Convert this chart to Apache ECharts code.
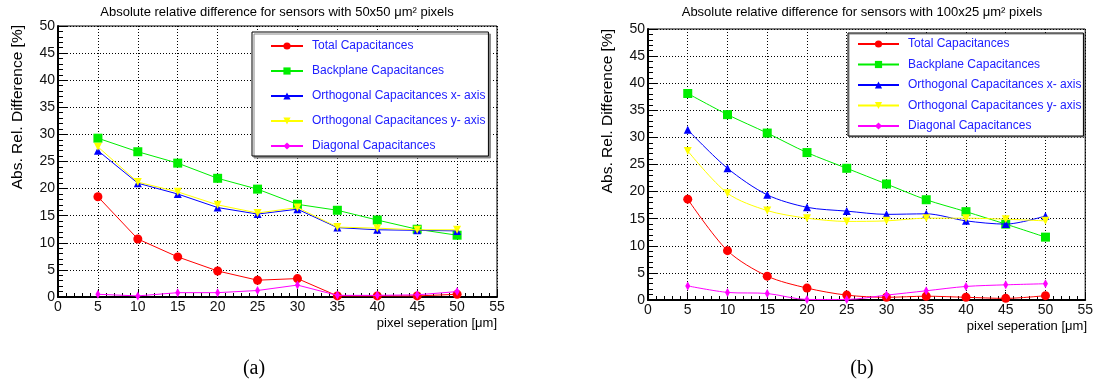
<!DOCTYPE html>
<html>
<head>
<meta charset="utf-8">
<script src="https://cdn.jsdelivr.net/npm/echarts@6/dist/echarts.min.js"></script>
<style>
  html, body { margin: 0; padding: 0; background: #fff; }
  #main { width: 1096px; height: 388px; }
</style>
</head>
<body>
<div id="main"></div>
<script>
// pixel separation [um]
const separation = [5, 10, 15, 20, 25, 30, 35, 40, 45, 50];
const seriesNames = [
  'Total Capacitances',
  'Backplane Capacitances',
  'Orthogonal Capacitances x- axis',
  'Orthogonal Capacitances y- axis',
  'Diagonal Capacitances'
];

// (a) 50x50 um^2
const totalA = [18.5, 10.7, 7.4, 4.8, 3.1, 3.4, 0.2, 0.2, 0.2, 0.5];
const backplaneA = [29.3, 26.8, 24.7, 21.9, 19.9, 17.1, 16.0, 14.2, 12.5, 11.4];
const orthoXA = [27.0, 21.0, 19.0, 16.5, 15.3, 16.2, 12.8, 12.4, 12.3, 12.2];
const orthoYA = [27.7, 21.2, 19.4, 17.0, 15.5, 16.5, 12.9, 12.7, 12.4, 12.4];
const diagonalA = [0.5, 0.2, 0.8, 0.8, 1.2, 2.2, 0.3, 0.3, 0.4, 1.0];

// (b) 100x25 um^2
const totalB = [18.6, 9.1, 4.4, 2.2, 0.9, 0.5, 0.7, 0.5, 0.3, 0.8];
const backplaneB = [38.1, 34.2, 30.8, 27.2, 24.3, 21.4, 18.5, 16.3, 14.0, 11.6];
const orthoXB = [31.4, 24.3, 19.4, 17.1, 16.4, 15.8, 15.9, 14.6, 14.0, 15.5];
const orthoYB = [27.5, 19.7, 16.5, 15.1, 14.5, 14.6, 15.1, 15.1, 14.9, 14.6];
const diagonalB = [2.6, 1.4, 1.2, 0.1, 0.1, 0.9, 1.7, 2.5, 2.8, 3.0];

const xTicks = [0, 5, 10, 15, 20, 25, 30, 35, 40, 45, 50, 55];
const yTicks = [0, 5, 10, 15, 20, 25, 30, 35, 40, 45, 50];

const colors = ['#ff0000', '#00ee00', '#0000ff', '#ffff00', '#ff00ff'];
const symbols = ['circle', 'rect', 'triangle', 'triangle', 'diamond'];
const symbolRotates = [0, 0, 0, 180, 0];
const symbolSizes = [9, 9, 8, 8, [5, 9]];

const FONT = '"Liberation Sans", Arial, sans-serif';

const chart = echarts.init(document.getElementById('main'));

function pairs(values) {
  return separation.map((x, i) => [x, values[i]]);
}

function makeXAxis(gridIndex) {
  return {
    gridIndex,
    type: 'value',
    min: xTicks[0],
    max: xTicks[xTicks.length - 1],
    interval: 5,
    axisLine: { onZero: false, lineStyle: { color: '#000', width: 2 } },
    axisTick: { inside: true, length: 8, lineStyle: { color: '#000' } },
    minorTick: { show: true, splitNumber: 5, length: 4, lineStyle: { color: '#000' } },
    axisLabel: { color: '#111', fontSize: 14, fontFamily: FONT, margin: 3 },
    splitLine: { show: true, lineStyle: { color: '#000', type: [1, 2], width: 1 } }
  };
}

function makeYAxis(gridIndex) {
  return {
    gridIndex,
    type: 'value',
    min: yTicks[0],
    max: yTicks[yTicks.length - 1],
    interval: 5,
    axisLine: { onZero: false, lineStyle: { color: '#000', width: 2 } },
    axisTick: { inside: true, length: 10, lineStyle: { color: '#000' } },
    minorTick: { show: true, splitNumber: 5, length: 5, lineStyle: { color: '#000' } },
    axisLabel: { color: '#111', fontSize: 14, fontFamily: FONT, margin: 3 },
    splitLine: { show: true, lineStyle: { color: '#000', type: [1, 2], width: 1 } }
  };
}

function makeSeries(idx, dataSets, smooth) {
  return dataSets.map((values, i) => ({
    name: seriesNames[i],
    type: 'line',
    xAxisIndex: idx,
    yAxisIndex: idx,
    data: pairs(values),
    smooth,
    symbol: symbols[i],
    symbolSize: symbolSizes[i],
    symbolRotate: symbolRotates[i],
    color: colors[i],
    lineStyle: { width: 1, color: colors[i] },
    itemStyle: { color: colors[i] },
    z: 2 + i
  }));
}

function makeLegend(left, top, padding, itemWidth, itemGap, shadow) {
  return {
    orient: 'vertical',
    left,
    top,
    padding,
    itemWidth,
    itemHeight: 9,
    itemGap,
    backgroundColor: '#fff',
    borderColor: '#000',
    borderWidth: 1,
    borderRadius: 0,
    shadowColor: '#888',
    shadowOffsetX: shadow,
    shadowOffsetY: shadow,
    shadowBlur: 0,
    data: seriesNames,
    textStyle: { color: '#2020ff', fontSize: 12, fontFamily: FONT, padding: [0, 0, 0, 4] }
  };
}

function makeTitle(text, center) {
  return {
    text,
    left: center,
    top: 6,
    textAlign: 'center',
    padding: 0,
    textStyle: { fontSize: 13, fontWeight: 'normal', color: '#000', fontFamily: FONT }
  };
}

const option = {
  backgroundColor: '#fff',
  animation: false,
  title: [
    makeTitle('Absolute relative difference for sensors with 50x50 μm² pixels', 277),
    makeTitle('Absolute relative difference for sensors with 100x25 μm² pixels', 862)
  ],
  grid: [
    { left: 58, top: 26, width: 439, height: 271, show: true, borderColor: '#000', borderWidth: 1 },
    { left: 648, top: 29, width: 439, height: 271, show: true, borderColor: '#000', borderWidth: 1 }
  ],
  xAxis: [makeXAxis(0), makeXAxis(1)],
  yAxis: [makeYAxis(0), makeYAxis(1)],
  legend: [
    makeLegend(252, 32, [8, 3, 4, 18], 32, 13, 2),
    makeLegend(848, 33, [5, 2, 4, 9], 41, 8.5, 1)
  ],
  series: [
    ...makeSeries(0, [totalA, backplaneA, orthoXA, orthoYA, diagonalA], false),
    ...makeSeries(1, [totalB, backplaneB, orthoXB, orthoYB, diagonalB], 0.3)
  ],
  graphic: [
    {
      type: 'text', x: 17.5, y: 25, rotation: Math.PI / 2,
      style: { text: 'Abs. Rel. Difference [%]', fill: '#000', font: '15.5px ' + FONT, align: 'right', verticalAlign: 'middle' }
    },
    {
      type: 'text', x: 607.5, y: 29, rotation: Math.PI / 2,
      style: { text: 'Abs. Rel. Difference [%]', fill: '#000', font: '15.5px ' + FONT, align: 'right', verticalAlign: 'middle' }
    },
    {
      type: 'text', x: 497, y: 323,
      style: { text: 'pixel seperation [μm]', fill: '#000', font: '13px ' + FONT, align: 'right', verticalAlign: 'middle' }
    },
    {
      type: 'text', x: 1087, y: 326,
      style: { text: 'pixel seperation [μm]', fill: '#000', font: '13px ' + FONT, align: 'right', verticalAlign: 'middle' }
    },
    {
      type: 'text', x: 254, y: 369,
      style: { text: '(a)', fill: '#000', font: '20px "Liberation Serif", "Times New Roman", serif', align: 'center', verticalAlign: 'middle' }
    },
    {
      type: 'text', x: 862, y: 369,
      style: { text: '(b)', fill: '#000', font: '20px "Liberation Serif", "Times New Roman", serif', align: 'center', verticalAlign: 'middle' }
    }
  ]
};

chart.setOption(option);
</script>
</body>
</html>
